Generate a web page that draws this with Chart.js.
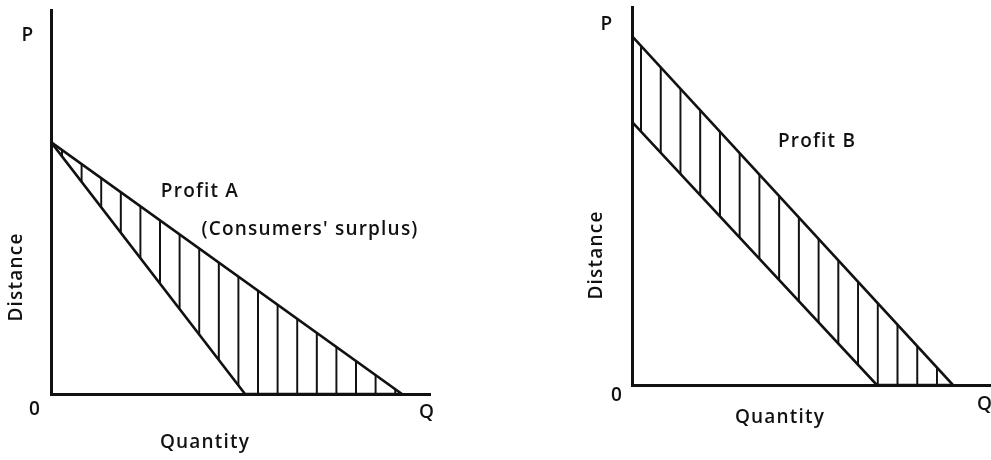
<!DOCTYPE html>
<html>
<head>
<meta charset="utf-8">
<script src="https://cdn.jsdelivr.net/npm/chart.js@4"></script>
<style>
  body { margin: 0; background: #fff; width: 991px; height: 460px; overflow: hidden; position: relative; }
  canvas { position: absolute; top: 0; }
  #grafico_a { left: 0; }
  #grafico_b { left: 495px; }
</style>
</head>
<body>
<canvas id="grafico_a" width="495" height="460"></canvas>
<canvas id="grafico_b" width="496" height="460"></canvas>
<script>
// dados (eixos 0..100)
// grafico A: demanda (linha de cima) e custo (linha de baixo)
const demandaA_x = [0, 92.6];
const demandaA_y = [65.6, 0];
const custoA_x = [0, 51.2, 92.6];
const custoA_y = [65.6, 0, 0];

// grafico B: duas retas paralelas
const demandaB_x = [0, 89.4];
const demandaB_y = [92.3, 0];
const custoB_x = [0, 68.2, 89.4];
const custoB_y = [69.6, 0, 0];

const tinta = '#111';

function pontos(xs, ys) {
  return xs.map((x, i) => ({ x: x, y: ys[i] }));
}

// hachura vertical (padrao de listras)
function hachura(canvas, inicio, passo) {
  const c = document.createElement('canvas');
  c.width = 20; c.height = 4;
  const g = c.getContext('2d');
  g.fillStyle = tinta;
  g.fillRect(0, 0, 2, 4);
  const p = canvas.getContext('2d').createPattern(c, 'repeat');
  p.setTransform(new DOMMatrix([passo / 20, 0, 0, 1, inicio, 0]));
  return p;
}

// textos soltos do desenho
function rotulos(lista) {
  return {
    id: 'rotulos',
    afterDraw(chart) {
      const ctx = chart.ctx;
      ctx.save();
      ctx.fillStyle = tinta;
      ctx.font = '600 19px "Open Sans"';
      ctx.letterSpacing = '1.2px';
      ctx.textAlign = 'center';
      ctx.textBaseline = 'middle';
      lista.forEach(r => {
        ctx.save();
        ctx.translate(r.x, r.y);
        if (r.girar) ctx.rotate(-Math.PI / 2);
        ctx.fillText(r.texto, 0, 0);
        ctx.restore();
      });
      ctx.restore();
    }
  };
}

function eixo() {
  return {
    type: 'linear', min: 0, max: 100,
    ticks: { display: false },
    grid: { drawOnChartArea: false, drawTicks: false },
    border: { color: tinta, width: 3 }
  };
}

function opcoes(padding) {
  return {
    responsive: false,
    animation: false,
    devicePixelRatio: 1,
    layout: { padding: padding },
    plugins: { legend: { display: false }, tooltip: { enabled: false } },
    scales: { x: eixo(), y: eixo() },
    elements: {
      point: { radius: 0 },
      line: { borderColor: tinta, borderWidth: 2.6, tension: 0 }
    }
  };
}

const canvasA = document.getElementById('grafico_a');
new Chart(canvasA, {
  type: 'line',
  data: {
    datasets: [
      { data: pontos(custoA_x, custoA_y), fill: false },
      { data: pontos(demandaA_x, demandaA_y), fill: '-1', backgroundColor: hachura(canvasA, 61, 19.6) }
    ]
  },
  options: opcoes({ left: 51, right: 65, top: 10, bottom: 66 }),
  plugins: [rotulos([
    { texto: 'P', x: 28, y: 36 },
    { texto: '0', x: 35, y: 410 },
    { texto: 'Q', x: 427, y: 413 },
    { texto: 'Quantity', x: 205, y: 443 },
    { texto: 'Distance', x: 17, y: 277, girar: true },
    { texto: 'Profit A', x: 200, y: 192 },
    { texto: "(Consumers' surplus)", x: 310, y: 230 }
  ])]
});

const canvasB = document.getElementById('grafico_b');
new Chart(canvasB, {
  type: 'line',
  data: {
    datasets: [
      { data: pontos(custoB_x, custoB_y), fill: false },
      { data: pontos(demandaB_x, demandaB_y), fill: '-1', backgroundColor: hachura(canvasB, 145, 19.73) }
    ]
  },
  options: opcoes({ left: 137, right: 0, top: 7, bottom: 75 }),
  plugins: [rotulos([
    { texto: 'P', x: 112, y: 25 },
    { texto: '0', x: 122, y: 396 },
    { texto: 'Q', x: 490, y: 405 },
    { texto: 'Quantity', x: 285, y: 418 },
    { texto: 'Distance', x: 102, y: 255, girar: true },
    { texto: 'Profit B', x: 322, y: 142 }
  ])]
});
</script>
</body>
</html>
